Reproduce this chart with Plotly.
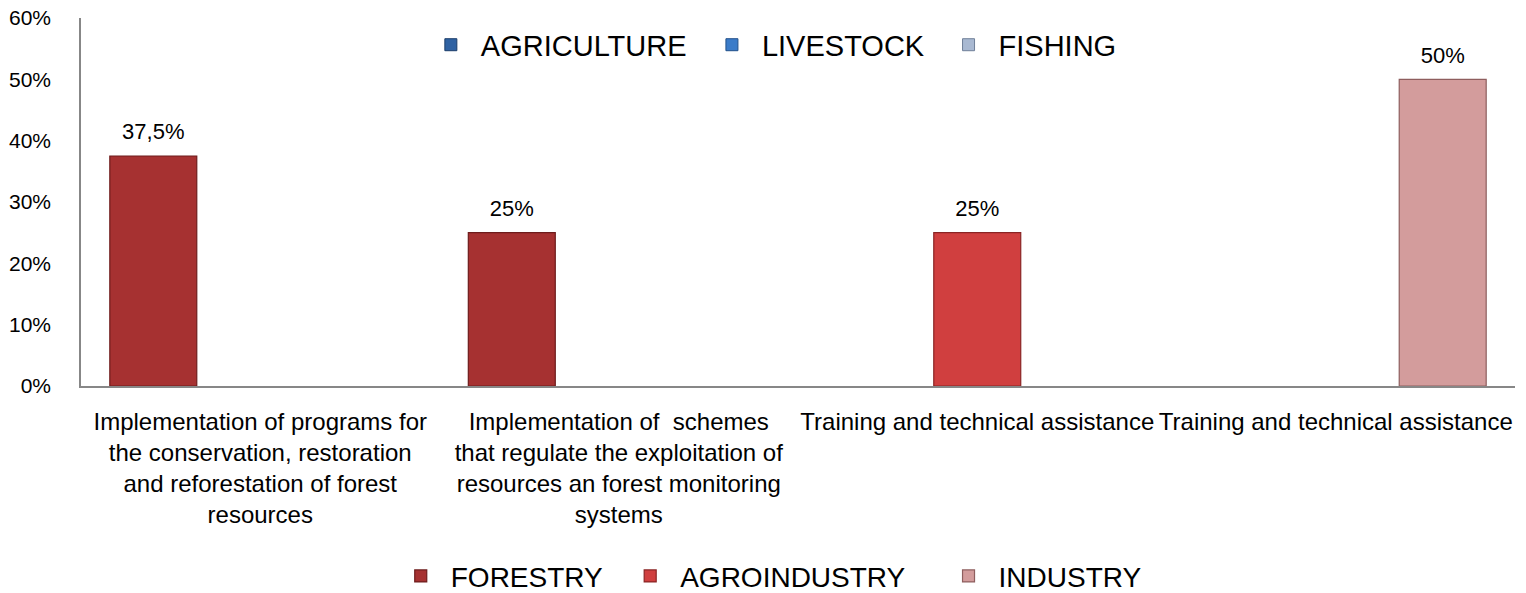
import plotly.graph_objects as go

categories = [
    "Implementation of programs for<br>the conservation, restoration<br>and reforestation of forest<br>resources",
    "Implementation of\u00a0 schemes<br>that regulate the exploitation of<br>resources an forest monitoring<br>systems",
    "Training and technical assistance",
    "Training and technical assistance",
]
cat_idx = [0, 1, 2, 3]

forestry = [0.375, 0.25, None, None]
agroindustry = [None, None, 0.25, None]
industry = [None, None, None, 0.50]

top_series = ["AGRICULTURE", "LIVESTOCK", "FISHING"]
top_colors = ["#2F62A3", "#3B7CC9", "#A9B9D2"]
top_edges = ["#1C3D6A", "#21508A", "#6F7F98"]

red_names = ["FORESTRY", "AGROINDUSTRY", "INDUSTRY"]
red_values = [forestry, agroindustry, industry]
red_colors = ["#A63131", "#D03F3F", "#D39C9C"]
red_edges = ["#6E1C1C", "#8A2424", "#8E5E5E"]

FONT = "Liberation Sans"

# legend placement (paper x of each legend box), styling/layout only
top_legend_x = [0.237, 0.433, 0.598]
bottom_legend_x = [0.216, 0.376, 0.598]


def fmt(v):
    if v is None:
        return None
    s = f"{v*100:g}%".replace(".", ",")
    # label plus a small blank line underneath to lift it above the bar
    return f"<span style='font-size:22px'>{s}</span><br>\u00a0"


fig = go.Figure()

legend_layouts = {}
n = 1
for name, col, edge, lx in zip(top_series, top_colors, top_edges, top_legend_x):
    key = "legend" if n == 1 else f"legend{n}"
    fig.add_trace(go.Bar(
        x=[None], y=[None], name=name, xaxis="x2", yaxis="y2",
        marker=dict(color=col, line=dict(color=edge, width=1)),
        legend=key, showlegend=True, hoverinfo="skip",
    ))
    legend_layouts[key] = dict(
        orientation="h", x=lx, xanchor="left", y=0.927, yanchor="middle",
        font=dict(family=FONT, size=29, color="#000000"),
        bgcolor="rgba(0,0,0,0)", itemwidth=50,
    )
    n += 1

for name, vals, col, edge, lx in zip(red_names, red_values, red_colors, red_edges, bottom_legend_x):
    key = f"legend{n}"
    fig.add_trace(go.Bar(
        x=cat_idx, y=vals, name=name,
        marker=dict(color=col, line=dict(color=edge, width=1.2)),
        text=[fmt(v) for v in vals], textposition="outside",
        textfont=dict(family=FONT, size=9, color="#000000"),
        cliponaxis=False, legend=key,
    ))
    legend_layouts[key] = dict(
        orientation="h", x=lx, xanchor="left", y=-0.517, yanchor="middle",
        font=dict(family=FONT, size=28, color="#000000"),
        bgcolor="rgba(0,0,0,0)", itemwidth=50,
    )
    n += 1

fig.update_layout(
    width=1526, height=593,
    paper_bgcolor="white", plot_bgcolor="white",
    margin=dict(l=81, r=11, t=18, b=207, autoexpand=False),
    barmode="group", bargap=0.105, bargroupgap=0.187,
    font=dict(family=FONT, size=22, color="#000000"),
    xaxis=dict(
        tickmode="array", tickvals=cat_idx, ticktext=categories,
        range=[-0.5, 3.5], showgrid=False, zeroline=False,
        showline=True, linecolor="#878787", linewidth=1.5,
        ticks="", tickfont=dict(family=FONT, size=24, color="#000000"),
        ticklabelstandoff=13, automargin=False, ticklabeloverflow="allow",
    ),
    yaxis=dict(
        range=[0, 0.6], dtick=0.1, tickformat=".0%",
        showgrid=False, zeroline=False,
        showline=True, linecolor="#878787", linewidth=1.5,
        ticks="", tickfont=dict(family=FONT, size=21, color="#000000"),
        ticklabelstandoff=24, automargin=False, ticklabeloverflow="allow",
    ),
    xaxis2=dict(overlaying="x", visible=False, range=[0, 1]),
    yaxis2=dict(overlaying="y", visible=False, range=[0, 1]),
    showlegend=True,
    **legend_layouts,
)

fig.write_html(
    "out.html",
    config={"displayModeBar": False},
    post_script="document.body.style.margin='0';document.body.style.overflow='hidden';",
)
